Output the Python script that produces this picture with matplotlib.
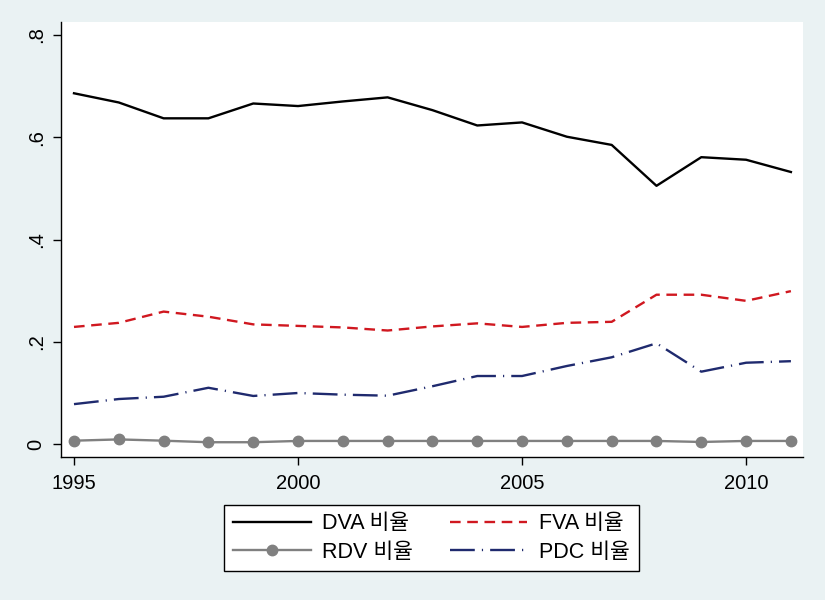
import matplotlib
matplotlib.use('Agg')
import matplotlib.pyplot as plt

years = list(range(1995, 2012))
dva = [0.686, 0.668, 0.637, 0.637, 0.666, 0.661, 0.670, 0.678, 0.653, 0.623,
       0.629, 0.601, 0.585, 0.505, 0.561, 0.556, 0.532]
fva = [0.229, 0.237, 0.259, 0.249, 0.234, 0.231, 0.228, 0.222, 0.230, 0.236,
       0.229, 0.237, 0.239, 0.292, 0.292, 0.280, 0.299]
rdv = [0.0065, 0.009, 0.0065, 0.0035, 0.0035, 0.006, 0.006, 0.006, 0.006, 0.006,
       0.006, 0.006, 0.006, 0.006, 0.004, 0.006, 0.006]
pdc = [0.078, 0.088, 0.0925, 0.110, 0.094, 0.0998, 0.0965, 0.0945, 0.113, 0.133,
       0.133, 0.1526, 0.1696, 0.197, 0.1415, 0.159, 0.162]
labels = ['DVA 비율', 'FVA 비율', 'RDV 비율', 'PDC 비율']
xticks = [1995, 2000, 2005, 2010]
yticks = [0, 0.2, 0.4, 0.6, 0.8]
yticklabels = ['0', '.2', '.4', '.6', '.8']

plt.rcParams['font.family'] = ['Liberation Sans', 'Noto Sans CJK KR', 'DejaVu Sans']
bg = '#eaf2f3'

fig = plt.figure(figsize=(8.25, 6), dpi=100, facecolor=bg)
ax = fig.add_axes([61/825, 1-457/600, (803-61)/825, (457-22)/600])
ax.set_facecolor('white')

lw = 1.7
l1, = ax.plot(years, dva, color='black', lw=lw)
l2, = ax.plot(years, fva, color='#d01820', lw=lw, dashes=(4.5, 2.8))
l3, = ax.plot(years, rdv, color='#808080', lw=lw, marker='o', markersize=7.5,
              markerfacecolor='#808080', markeredgecolor='#808080')
l4, = ax.plot(years, pdc, color='#1f2a6e', lw=lw, dashes=(10.5, 3, 0.5, 3))

ax.set_xlim(1994.71, 2011.27)
ax.set_ylim(-0.0254, 0.8254)
ax.set_xticks(xticks)
ax.set_yticks(yticks)
ax.set_yticklabels(yticklabels, rotation=90, va='center')
ax.tick_params(axis='both', direction='out', length=6, width=1, color='black',
               labelsize=14.5, pad=5)
ax.tick_params(axis='x', pad=6)
for s in ['top', 'right']:
    ax.spines[s].set_visible(False)
for s in ['left', 'bottom']:
    ax.spines[s].set_linewidth(1)
    ax.spines[s].set_color('black')

# row-wise legend order like the original
order = [0, 2, 1, 3]
handles = [l1, l2, l3, l4]
leg = fig.legend([handles[i] for i in order], [labels[i] for i in order],
                 ncol=2, loc='center',
                 bbox_to_anchor=((222+641)/2/825, 1-(504+572)/2/600),
                 fontsize=15.5, frameon=True, fancybox=False,
                 edgecolor='black', facecolor='white', framealpha=1,
                 handlelength=3.6, handletextpad=0.55, columnspacing=1.7,
                 labelspacing=0.35, borderpad=0.4, borderaxespad=0)
leg.get_frame().set_linewidth(1)

fig.savefig('out.png', dpi=100, facecolor=bg)
